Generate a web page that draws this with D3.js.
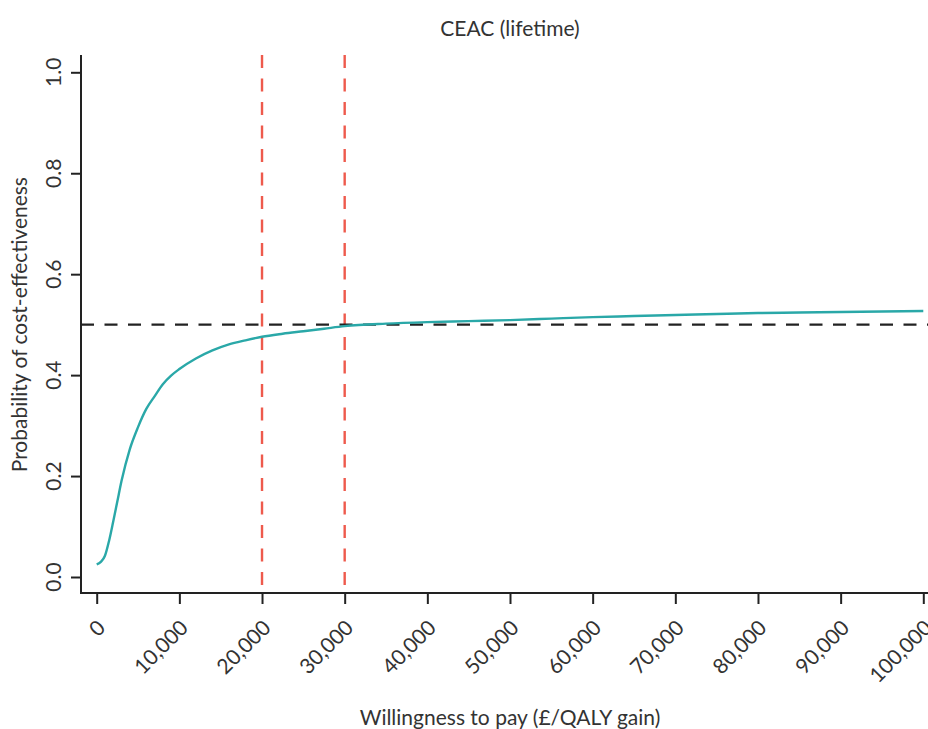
<!DOCTYPE html>
<html>
<head>
<meta charset="utf-8">
<script src="https://cdn.jsdelivr.net/npm/d3@7"></script>
<style>
    body { margin: 0; background: #fff; }
    svg text { font-family: Lato, "Open Sans", sans-serif; fill: #333; }
</style>
</head>
<body>
<div id="chart"></div>
<script>
// willingness to pay (£/QALY) and probability of cost-effectiveness
const wtp = [0, 500, 1000, 1500, 2000, 2500, 3000, 4000, 5000, 6000, 7000, 8000, 9000, 10000,
    12000, 14000, 16000, 18000, 20000, 22500, 25000, 27500, 30000, 35000, 40000, 45000,
    50000, 55000, 60000, 65000, 70000, 75000, 80000, 85000, 90000, 95000, 100000];
const probCE = [0.025, 0.030, 0.042, 0.072, 0.110, 0.150, 0.190, 0.253, 0.297, 0.333, 0.358, 0.382, 0.399, 0.412,
    0.433, 0.449, 0.461, 0.469, 0.476, 0.482, 0.487, 0.492, 0.497, 0.502, 0.505, 0.507,
    0.509, 0.512, 0.515, 0.517, 0.519, 0.521, 0.523, 0.524, 0.525, 0.526, 0.527];
const xTicks = [0, 10000, 20000, 30000, 40000, 50000, 60000, 70000, 80000, 90000, 100000];
const yTicks = [0, 0.2, 0.4, 0.6, 0.8, 1.0];
const thresholds = [20000, 30000];
const refProb = 0.5;

const W = 928, H = 729;
const box = { left: 81, right: 939, top: 55, bottom: 593 };

const svg = d3.select('#chart')
    .append('svg')
    .attr('width', W)
    .attr('height', H);

const x = d3.scaleLinear().domain([0, 100000]).range([96.7, 923.3]);
const y = d3.scaleLinear().domain([0, 1]).range([577, 72.3]);

// threshold lines
svg.selectAll('.thr')
    .data(thresholds)
    .enter()
    .append('line')
    .attr('x1', d => x(d)).attr('x2', d => x(d))
    .attr('y1', box.top).attr('y2', box.bottom)
    .attr('stroke', '#ee5a4c')
    .attr('stroke-width', 2.4)
    .attr('stroke-dasharray', '13,10.5');

// 50% line
svg.append('line')
    .attr('x1', box.left).attr('x2', box.right)
    .attr('y1', y(refProb)).attr('y2', y(refProb))
    .attr('stroke', '#222')
    .attr('stroke-width', 2.4)
    .attr('stroke-dasharray', '13,10.5');

// CEAC curve
const line = d3.line()
    .x((d, i) => x(wtp[i]))
    .y(d => y(d))
    .curve(d3.curveMonotoneX);

svg.append('path')
    .datum(probCE)
    .attr('d', line)
    .attr('fill', 'none')
    .attr('stroke', '#2aa8a8')
    .attr('stroke-width', 2.4);

// L-shaped box
svg.append('path')
    .attr('d', `M${box.left},${box.top}V${box.bottom}H${box.right}`)
    .attr('fill', 'none')
    .attr('stroke', '#222')
    .attr('stroke-width', 2);

// x axis
const xAxis = svg.append('g')
    .attr('transform', `translate(0,${box.bottom})`)
    .call(d3.axisBottom(x).tickValues(xTicks).tickSize(11).tickFormat(''));
xAxis.select('.domain').remove();
xAxis.selectAll('line').attr('stroke', '#222').attr('stroke-width', 2);

svg.selectAll('.xlab')
    .data(xTicks)
    .enter()
    .append('text')
    .attr('transform', d => `translate(${x(d) + 4},623) rotate(-45)`)
    .attr('text-anchor', 'end')
    .attr('dominant-baseline', 'central')
    .style('font-size', '21px')
    .text(d => d3.format(',')(d));

// y axis
const yAxis = svg.append('g')
    .attr('transform', `translate(${box.left},0)`)
    .call(d3.axisLeft(y).tickValues(yTicks).tickSize(10).tickFormat(''));
yAxis.select('.domain').remove();
yAxis.selectAll('line').attr('stroke', '#222').attr('stroke-width', 2);

svg.selectAll('.ylab')
    .data(yTicks)
    .enter()
    .append('text')
    .attr('transform', d => `translate(52,${y(d)}) rotate(-90)`)
    .attr('text-anchor', 'middle')
    .attr('dominant-baseline', 'central')
    .style('font-size', '21px')
    .text(d => d3.format('.1f')(d));

// titles
svg.append('text')
    .attr('x', 510).attr('y', 27)
    .attr('text-anchor', 'middle')
    .attr('dominant-baseline', 'central')
    .style('font-size', '21px')
    .text('CEAC (lifetime)');

svg.append('text')
    .attr('x', 510).attr('y', 716)
    .attr('text-anchor', 'middle')
    .attr('dominant-baseline', 'central')
    .style('font-size', '21px')
    .text('Willingness to pay (£/QALY gain)');

svg.append('text')
    .attr('transform', `translate(18,${(y(0) + y(1)) / 2}) rotate(-90)`)
    .attr('text-anchor', 'middle')
    .attr('dominant-baseline', 'central')
    .style('font-size', '21px')
    .text('Probability of cost-effectiveness');
</script>
</body>
</html>
